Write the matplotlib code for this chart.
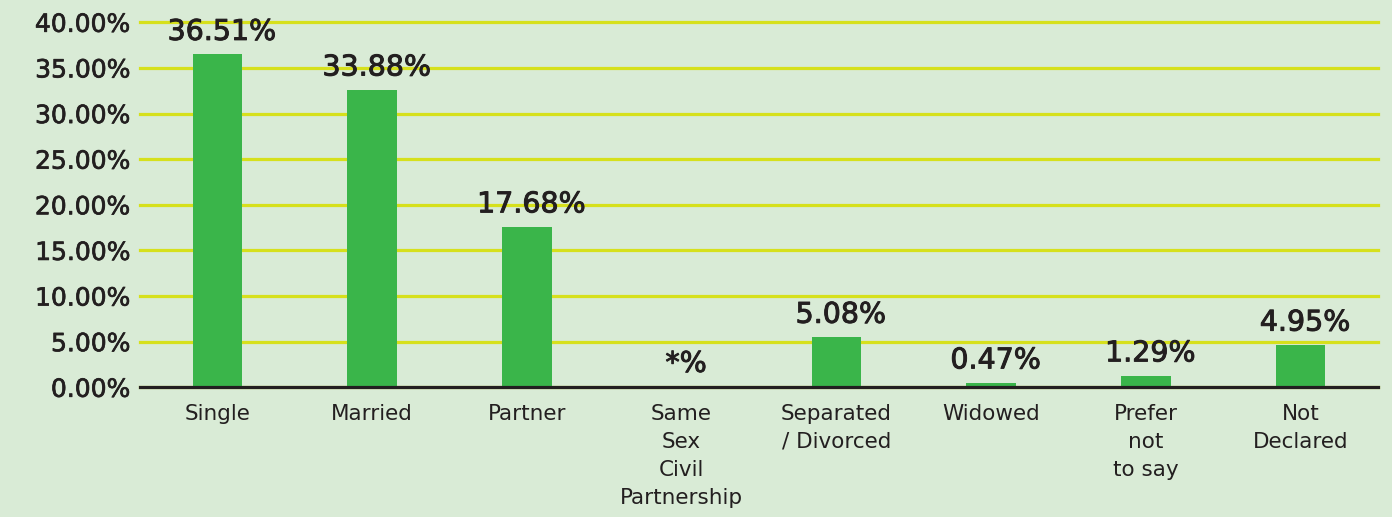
import matplotlib.pyplot as plt
import matplotlib.patheffects as pe

# data
categories = ["Single", "Married", "Partner", "Same\nSex\nCivil\nPartnership",
              "Separated\n/ Divorced", "Widowed", "Prefer\nnot\nto say", "Not\nDeclared"]
bar_heights = [36.5, 32.6, 17.6, 0.12, 5.5, 0.5, 1.27, 4.64]
bar_labels = ["36.51%", "33.88%", "17.68%", "*%", "5.08%", "0.47%", "1.29%", "4.95%"]
bar_colors = ["#3ab54a"] * 3 + ["#1f2d4d"] + ["#3ab54a"] * 4
yticks = [0, 5, 10, 15, 20, 25, 30, 35, 40]

bg = "#d9ebd6"
txt = "#231f20"
grid_col = "#d6e01c"

plt.rcParams['font.family'] = ['DejaVu Sans']

fig = plt.figure(figsize=(13.92, 5.17), dpi=100)
fig.patch.set_facecolor(bg)
ax = fig.add_axes([140 / 1392, (517 - 387.3) / 517, 1238 / 1392, 365 / 517])
ax.set_facecolor(bg)

x = list(range(len(categories)))
bars = ax.bar(x, bar_heights, width=0.32, color=bar_colors, zorder=3)

for b, lab in zip(bars, bar_labels):
    t = ax.annotate(lab, (b.get_x() + b.get_width() / 2 + 0.03, b.get_height()),
                    xytext=(0, 6), textcoords="offset points",
                    ha="center", va="bottom", fontsize=20.5, color=txt, zorder=5)
    t.set_path_effects([pe.withStroke(linewidth=0.7, foreground=txt)])

ax.set_xlim(-0.5, len(categories) - 0.5)
ax.set_ylim(0, 40)
ax.set_yticks(yticks)
ax.set_yticklabels([f"{v:.2f}%" for v in yticks])
ax.set_xticks(x)
ax.set_xticklabels(categories, fontsize=15.5, color=txt, linespacing=1.5)

for t in ax.get_yticklabels():
    t.set_fontsize(18)
    t.set_color(txt)
    t.set_path_effects([pe.withStroke(linewidth=0.5, foreground=txt)])

ax.tick_params(axis="y", length=0, pad=7)
ax.tick_params(axis="x", length=0, pad=12)

ax.set_axisbelow(True)
ax.yaxis.grid(True, color=grid_col, linewidth=2.3)
for gl in ax.get_ygridlines():
    gl.set_clip_on(False)

for s in ["top", "right", "left"]:
    ax.spines[s].set_visible(False)
ax.spines["bottom"].set_color(txt)
ax.spines["bottom"].set_linewidth(2.3)
ax.spines["bottom"].set_zorder(4)

fig.savefig("out.png", dpi=100, facecolor=bg)
